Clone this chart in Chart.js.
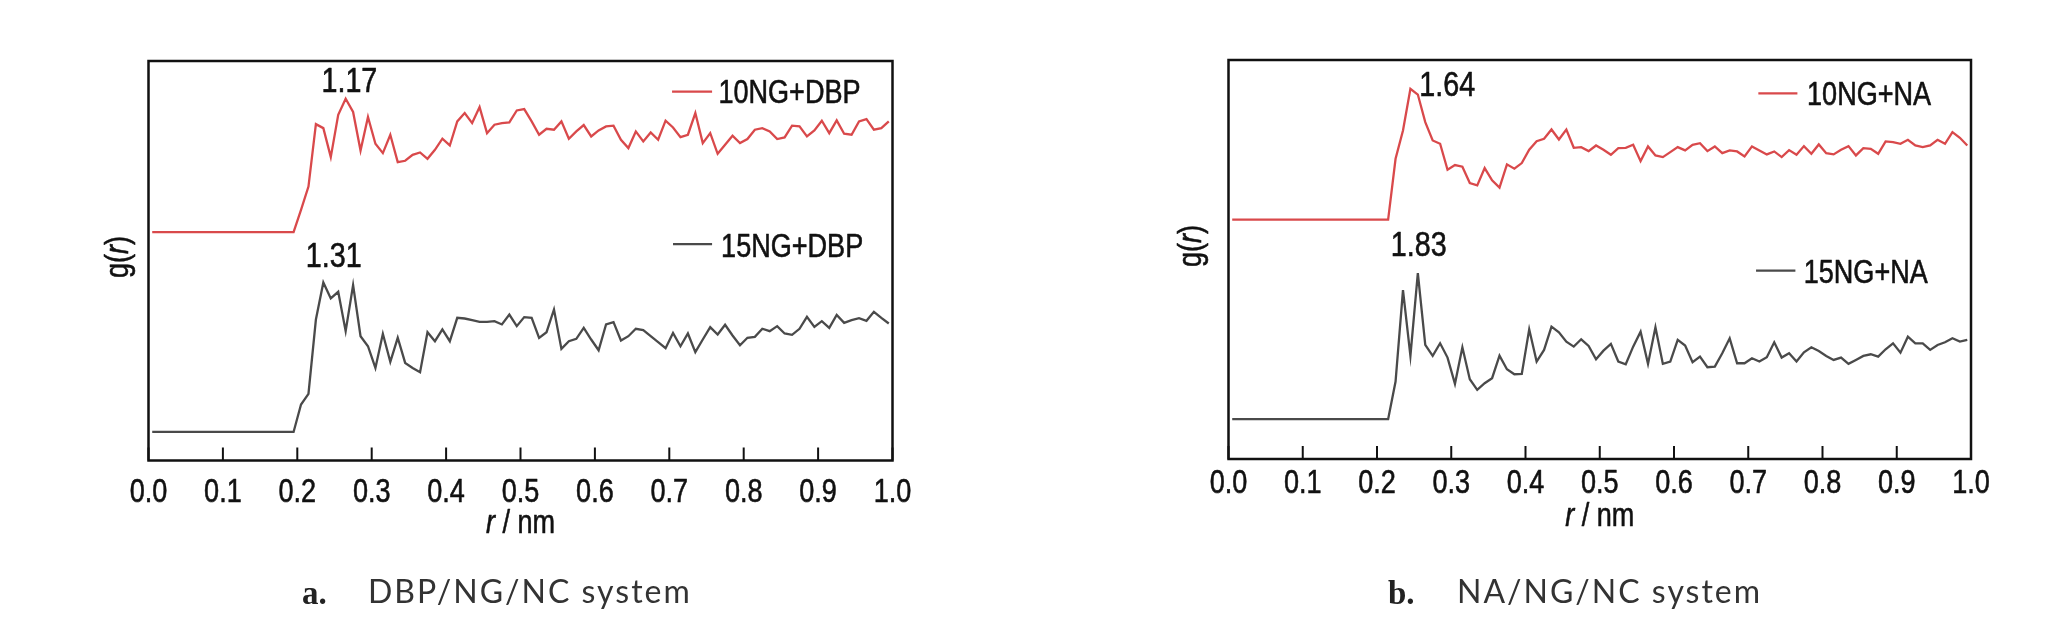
<!DOCTYPE html>
<html>
<head>
<meta charset="utf-8">
<script src="https://cdn.jsdelivr.net/npm/chart.js@4.4.1/dist/chart.umd.min.js"></script>
<style>
  body { margin: 0; background: #fff; width: 2072px; height: 630px; position: relative; overflow: hidden; }
  canvas { position: absolute; top: 0; }
  #chartA { left: 0; }
  #chartB { left: 1036px; }
  .tag { position: absolute; font-family: 'Liberation Serif', serif; font-weight: bold; font-size: 33px; line-height: 32px; color: #222; white-space: nowrap; }
  .cap { position: absolute; font-family: Lato, 'Open Sans', sans-serif; font-size: 32px; line-height: 32px; letter-spacing: 2px; color: #333; white-space: nowrap; }
</style>
</head>
<body>
<canvas id="chartA" width="1036" height="630"></canvas>
<canvas id="chartB" width="1036" height="630"></canvas>
<span class="tag" style="left:302px; top:577px">a.</span>
<span class="cap" style="left:368px; top:575px">DBP/NG/NC system</span>
<span class="tag" style="left:1388px; top:577px">b.</span>
<span class="cap" style="left:1457px; top:575px">NA/NG/NC system</span>
<script>
var FONT = "'Liberation Sans', Arial, sans-serif";
var SQUEEZE = 0.82;   // the figure uses a condensed Arial
var RED = '#d9494b';
var GRAY = '#4a4a4a';

// r / nm, one point every 0.01 nm
var rValues = [0.005, 0.015, 0.025, 0.035, 0.045, 0.055, 0.065, 0.075, 0.085, 0.095,
  0.105, 0.115, 0.125, 0.135, 0.145, 0.155, 0.165, 0.175, 0.185, 0.195,
  0.205, 0.215, 0.225, 0.235, 0.245, 0.255, 0.265, 0.275, 0.285, 0.295,
  0.305, 0.315, 0.325, 0.335, 0.345, 0.355, 0.365, 0.375, 0.385, 0.395,
  0.405, 0.415, 0.425, 0.435, 0.445, 0.455, 0.465, 0.475, 0.485, 0.495,
  0.505, 0.515, 0.525, 0.535, 0.545, 0.555, 0.565, 0.575, 0.585, 0.595,
  0.605, 0.615, 0.625, 0.635, 0.645, 0.655, 0.665, 0.675, 0.685, 0.695,
  0.705, 0.715, 0.725, 0.735, 0.745, 0.755, 0.765, 0.775, 0.785, 0.795,
  0.805, 0.815, 0.825, 0.835, 0.845, 0.855, 0.865, 0.875, 0.885, 0.895,
  0.905, 0.915, 0.925, 0.935, 0.945, 0.955, 0.965, 0.975, 0.985, 0.995];

var xTickLabels = ['0.0', '0.1', '0.2', '0.3', '0.4', '0.5', '0.6', '0.7', '0.8', '0.9', '1.0'];

// a. DBP/NG/NC system
var g10NG_DBP = [0, 0, 0, 0, 0, 0, 0, 0, 0, 0, 0, 0, 0, 0, 0, 0, 0, 0, 0, 0,
  0.196, 0.40, 0.947, 0.912, 0.658, 1.029, 1.17, 1.053, 0.716, 1.009,
  0.775, 0.693, 0.854, 0.614, 0.626, 0.678, 0.699, 0.643, 0.722, 0.819,
  0.760, 0.971, 1.044, 0.956, 1.096, 0.868, 0.942, 0.956, 0.962, 1.067,
  1.079, 0.971, 0.854, 0.906, 0.898, 0.971, 0.819, 0.883, 0.939, 0.839,
  0.892, 0.927, 0.933, 0.810, 0.737, 0.883, 0.795, 0.874, 0.810, 0.977,
  0.918, 0.833, 0.854, 1.044, 0.781, 0.868, 0.687, 0.766, 0.845, 0.781,
  0.816, 0.898, 0.912, 0.883, 0.816, 0.830, 0.933, 0.927, 0.839, 0.892,
  0.977, 0.868, 0.980, 0.863, 0.854, 0.971, 0.991, 0.898, 0.912, 0.971];
var g15NG_DBP = [0, 0, 0, 0, 0, 0, 0, 0, 0, 0, 0, 0, 0, 0, 0, 0, 0, 0, 0, 0,
  0.240, 0.333, 0.985, 1.31, 1.170, 1.228, 0.883, 1.287, 0.839, 0.751,
  0.561, 0.860, 0.614, 0.825, 0.605, 0.561, 0.523, 0.874, 0.795, 0.898,
  0.795, 1.0, 0.994, 0.980, 0.965, 0.965, 0.971, 0.942, 1.029, 0.927,
  1.006, 1.0, 0.825, 0.874, 1.073, 0.728, 0.795, 0.816, 0.912, 0.810,
  0.716, 0.942, 0.962, 0.801, 0.839, 0.904, 0.892, 0.839, 0.787, 0.734,
  0.868, 0.751, 0.863, 0.699, 0.810, 0.918, 0.854, 0.939, 0.845, 0.760,
  0.825, 0.833, 0.904, 0.883, 0.927, 0.863, 0.851, 0.904, 1.009, 0.921,
  0.971, 0.912, 1.026, 0.956, 0.980, 0.997, 0.974, 1.053, 1.0, 0.950];

// b. NA/NG/NC system
var g10NG_NA = [0, 0, 0, 0, 0, 0, 0, 0, 0, 0, 0, 0, 0, 0, 0, 0, 0, 0, 0, 0, 0, 0,
  0.7625, 1.117, 1.64, 1.567, 1.221, 0.992, 0.95, 0.625,
  0.683, 0.6625, 0.458, 0.429, 0.646, 0.492, 0.40, 0.692, 0.6375, 0.708,
  0.875, 0.983, 1.0125, 1.129, 1.004, 1.129, 0.90, 0.908, 0.858, 0.929,
  0.875, 0.8125, 0.896, 0.90, 0.9375, 0.733, 0.917, 0.804, 0.783, 0.846,
  0.908, 0.867, 0.9375, 0.958, 0.858, 0.917, 0.833, 0.867, 0.854, 0.792,
  0.917, 0.867, 0.817, 0.854, 0.783, 0.871, 0.8125, 0.921, 0.825, 0.942,
  0.833, 0.817, 0.875, 0.921, 0.804, 0.896, 0.8875, 0.825, 0.979, 0.971,
  0.95, 1.0, 0.929, 0.908, 0.929, 1.0, 0.95, 1.096, 1.025, 0.929];
var g15NG_NA = [0, 0, 0, 0, 0, 0, 0, 0, 0, 0, 0, 0, 0, 0, 0, 0, 0, 0, 0, 0, 0, 0,
  0.471, 1.617, 0.792, 1.83, 0.929, 0.792, 0.95, 0.771,
  0.442, 0.9, 0.5, 0.367, 0.45, 0.5125, 0.796, 0.625, 0.5625, 0.567,
  1.125, 0.721, 0.867, 1.158, 1.0875, 0.971, 0.908, 1.0, 0.917, 0.75,
  0.858, 0.942, 0.721, 0.6875, 0.908, 1.096, 0.692, 1.15, 0.692, 0.721,
  0.992, 0.921, 0.7125, 0.783, 0.65, 0.658, 0.825, 1.0125, 0.70, 0.70,
  0.7625, 0.721, 0.775, 0.9625, 0.771, 0.825, 0.721, 0.8375, 0.90, 0.854,
  0.792, 0.742, 0.771, 0.692, 0.742, 0.792, 0.8125, 0.783, 0.875, 0.95,
  0.833, 1.033, 0.95, 0.95, 0.867, 0.929, 0.9625, 1.0125, 0.971, 0.992];

// text in condensed form: parts = [[string, italic], ...]
function squeezedText(ctx, parts, x, y, align, size) {
  size = size || 33;
  var widths = parts.map(function (p) {
    ctx.font = (p[1] ? 'italic ' : '') + size + 'px ' + FONT;
    return ctx.measureText(p[0]).width;
  });
  var total = widths.reduce(function (s, w) { return s + w; }, 0);
  var start = align === 'center' ? -total / 2 : 0;
  ctx.save();
  ctx.translate(x, y);
  ctx.scale(SQUEEZE, 1);
  ctx.textAlign = 'left';
  ctx.lineWidth = 0.6;
  ctx.lineJoin = 'round';
  ctx.strokeStyle = ctx.fillStyle;
  parts.forEach(function (p, i) {
    ctx.font = (p[1] ? 'italic ' : '') + size + 'px ' + FONT;
    ctx.fillText(p[0], start, 0);
    ctx.strokeText(p[0], start, 0);
    start += widths[i];
  });
  ctx.restore();
}

// frame, inward ticks, tick labels, peak values, legend and axis titles
var gofrPlugin = {
  id: 'gofr',
  afterDatasetsDraw: function (chart, args, o) {
    var ctx = chart.ctx, a = chart.chartArea, x = chart.scales.x, y = chart.scales.y;
    ctx.save();
    ctx.fillStyle = '#111';
    ctx.textBaseline = 'alphabetic';
    x.ticks.forEach(function (t, i) {
      var px = x.getPixelForValue(t.value);
      ctx.lineWidth = 2;
      ctx.strokeStyle = '#111';
      ctx.beginPath();
      ctx.moveTo(px, a.bottom);
      ctx.lineTo(px, a.bottom - 13);
      ctx.stroke();
      squeezedText(ctx, [[xTickLabels[i], false]], px, a.bottom + o.tickDy, 'center');
    });
    ctx.lineWidth = 2.5;
    ctx.strokeStyle = '#111';
    ctx.strokeRect(a.left, a.top, a.right - a.left, a.bottom - a.top);

    o.peaks.forEach(function (p) {
      squeezedText(ctx, [[p.text, false]], x.getPixelForValue(p.r), y.getPixelForValue(p.y), 'center', 35);
    });

    o.legend.forEach(function (l) {
      ctx.strokeStyle = l.color;
      ctx.lineWidth = 2.3;
      ctx.beginPath();
      ctx.moveTo(x.getPixelForValue(l.r0), y.getPixelForValue(l.yLine));
      ctx.lineTo(x.getPixelForValue(l.r1), y.getPixelForValue(l.yLine));
      ctx.stroke();
      squeezedText(ctx, [[l.text, false]], x.getPixelForValue(l.rText), y.getPixelForValue(l.yText), 'left');
    });

    squeezedText(ctx, [['r', true], [' / nm', false]], (a.left + a.right) / 2, a.bottom + o.xTitleDy, 'center');

    ctx.translate(a.left + o.yTitleDx, o.yTitleY);
    ctx.rotate(-Math.PI / 2);
    ctx.textBaseline = 'middle';
    squeezedText(ctx, [['g(', false], ['r', true], [')', false]], 0, 0, 'center');
    ctx.restore();
  }
};

function series(values, offset) {
  return rValues.map(function (r, i) { return { x: r, y: values[i] + offset }; });
}

function makeChart(id, cfg) {
  return new Chart(document.getElementById(id), {
    type: 'line',
    data: {
      datasets: [
        { label: cfg.names[0], data: series(cfg.upper, cfg.offset), borderColor: RED, borderWidth: 2.3, pointRadius: 0, tension: 0 },
        { label: cfg.names[1], data: series(cfg.lower, 0), borderColor: GRAY, borderWidth: 2.3, pointRadius: 0, tension: 0 }
      ]
    },
    options: {
      responsive: false,
      animation: false,
      events: [],
      layout: { padding: { left: cfg.padLeft, right: cfg.padRight, top: cfg.padTop, bottom: 0 } },
      plugins: {
        legend: { display: false },
        tooltip: { enabled: false },
        gofr: cfg.deco
      },
      scales: {
        x: {
          type: 'linear', min: 0, max: 1,
          grid: { display: false, drawTicks: false },
          border: { display: false },
          ticks: { stepSize: 0.1, autoSkip: false, display: false },
          afterFit: function (s) { s.height = cfg.axisH; }
        },
        y: { display: false, min: cfg.yMin, max: cfg.yMax }
      }
    },
    plugins: [gofrPlugin]
  });
}

makeChart('chartA', {
  names: ['10NG+DBP', '15NG+DBP'],
  upper: g10NG_DBP, lower: g15NG_DBP, offset: 1.75,
  yMin: -0.25, yMax: 3.25,
  padLeft: 148.5, padRight: 143.5, padTop: 61, axisH: 169.5,
  deco: {
    peaks: [{ text: '1.17', r: 0.270, y: 2.976 }, { text: '1.31', r: 0.249, y: 1.447 }],
    legend: [
      { text: '10NG+DBP', color: RED, r0: 0.7037, r1: 0.7575, yLine: 2.981, rText: 0.766, yText: 2.879 },
      { text: '15NG+DBP', color: GRAY, r0: 0.705, r1: 0.7575, yLine: 1.646, rText: 0.7696, yText: 1.535 }
    ],
    tickDy: 41.5, xTitleDy: 72.5, yTitleDx: -30, yTitleY: 257
  }
});

makeChart('chartB', {
  names: ['10NG+NA', '15NG+NA'],
  upper: g10NG_NA, lower: g15NG_NA, offset: 2.5,
  yMin: -0.5, yMax: 4.5,
  padLeft: 192.5, padRight: 101, padTop: 60, axisH: 171,
  deco: {
    peaks: [{ text: '1.64', r: 0.2945, y: 4.049 }, { text: '1.83', r: 0.2563, y: 2.048 }],
    legend: [
      { text: '10NG+NA', color: RED, r0: 0.7136, r1: 0.7662, yLine: 4.083, rText: 0.7792, yText: 3.936 },
      { text: '15NG+NA', color: GRAY, r0: 0.7105, r1: 0.7635, yLine: 1.860, rText: 0.7747, yText: 1.709 }
    ],
    tickDy: 34.3, xTitleDy: 67, yTitleDx: -36.5, yTitleY: 246
  }
});
</script>
</body>
</html>
